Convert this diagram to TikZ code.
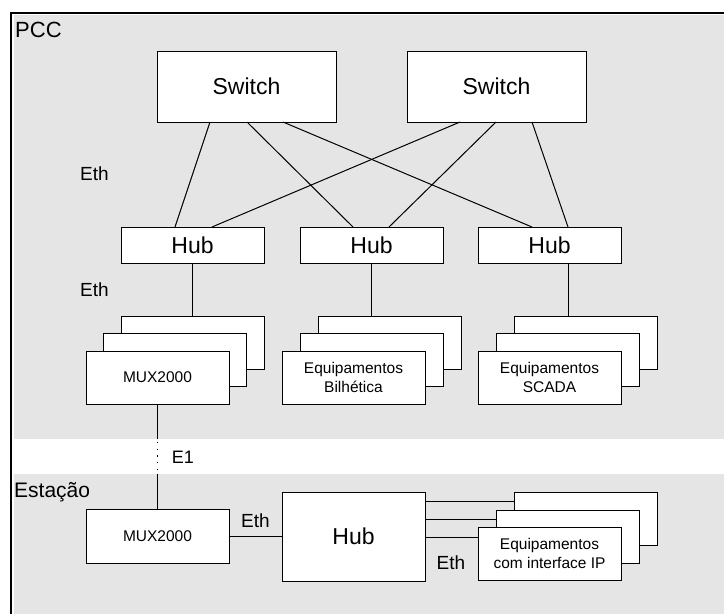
\documentclass[tikz,border=0pt]{standalone}
\usepackage{fontspec}
\setmainfont{Liberation Sans}
\definecolor{zone}{HTML}{E5E5E5}
\begin{document}
\begin{tikzpicture}[x=1pt,y=-1pt,
  unit/.style={draw=black,line width=1pt,fill=white,inner sep=0pt,outer sep=0pt,
    minimum width=143pt,minimum height=53pt,font=\fontsize{15.5}{19}\selectfont,align=center},
  switchbox/.style={unit,minimum width=179pt,minimum height=71pt,font=\fontsize{23}{26}\selectfont},
  hubbox/.style={unit,minimum height=36pt,font=\fontsize{23}{26}\selectfont},
  link/.style={line width=1pt,black},
  lbl/.style={inner sep=0pt,font=\fontsize{19}{22}\selectfont},
  zonelbl/.style={inner sep=0pt,anchor=base west,font=\fontsize{22}{24}\selectfont}]
\useasboundingbox (0,0) rectangle (724,614);
\fill[white] (0,0) rectangle (724,614);
% background zones
\fill[zone] (14,15) rectangle (724,439);
\fill[zone] (14,474) rectangle (724,614);
\draw[line width=2.5pt] (11,614) -- (11,13) -- (724,13);
\coordinate (bandtop) at (0,439);
\coordinate (bandbot) at (0,474);
\node[zonelbl] (pcc) at (15,37) {PCC};
\node[zonelbl,font=\fontsize{21}{24}\selectfont] (est) at (14,497) {Estação};

% switches and hubs
\node[switchbox] (sw1) at (246.5,86.5) {Switch};
\node[switchbox] (sw2) at (496.5,86.5) {Switch};
\node[hubbox] (hub1) at (192.5,245) {Hub};
\node[hubbox] (hub2) at (371.5,245) {Hub};
\node[hubbox] (hub3) at (549.5,245) {Hub};

\draw[link] ([xshift=53pt]sw1.south west) -- ([xshift=54pt]hub1.north west);
\draw[link] ([xshift=90pt]sw1.south west) -- ([xshift=53pt]hub2.north west);
\draw[link] ([xshift=126pt]sw1.south west) -- ([xshift=54pt]hub3.north west);
\draw[link] ([xshift=53pt]sw2.south west) -- ([xshift=91pt]hub1.north west);
\draw[link] ([xshift=89pt]sw2.south west) -- ([xshift=89pt]hub2.north west);
\draw[link] ([xshift=125pt]sw2.south west) -- ([xshift=90pt]hub3.north west);

\node[lbl] (eth1) at (94.5,174) {Eth};
\node[lbl] (eth2) at (94.5,290) {Eth};

% equipment stacks in PCC
\node[unit] (muxb) at (192.5,342.5) {};
\node[unit] (muxm) at (175,359.5) {};
\node[unit] (muxf) at (157.5,377.5) {MUX2000};
\node[unit] (bilb) at (389.5,342.5) {};
\node[unit] (bilm) at (371.5,359.5) {};
\node[unit] (bilf) at (353.5,377.5) {Equipamentos\\Bilhética};
\node[unit] (scab) at (585.5,342.5) {};
\node[unit] (scam) at (567.5,359.5) {};
\node[unit] (scaf) at (549.5,377.5) {Equipamentos\\SCADA};

\draw[link] (hub1.south) -- (hub1.south |- muxb.north);
\draw[link] (hub2.south) -- (hub2.south |- bilb.north);
\draw[link] ([xshift=90pt]hub3.south west) coordinate (h3) -- (h3 |- scab.north);

% station side
\node[unit,minimum height=54pt] (muxs) at (157.5,536) {MUX2000};
\node[hubbox,minimum height=89pt] (hubs) at (353.5,536.5) {Hub};

\draw[link] (muxf.south) -- (muxf.south |- bandtop);
\draw[link,dash pattern=on 1.2pt off 5.5pt] (muxf.south |- bandtop) ++(0,3) -- (muxf.south |- bandbot);
\draw[link] (muxf.south |- bandbot) -- (muxs.north);
\node[lbl,font=\fontsize{18}{22}\selectfont] (e1) at (183,457) {E1};

\draw[link] (muxs.east) -- (muxs.east -| hubs.west);
\node[lbl] (eth3) at (255.5,521) {Eth};

\node[unit] (ipb) at (585.5,518.5) {};
\node[unit] (ipm) at (567.5,536.5) {};
\node[unit] (ipf) at (549.5,553.5) {Equipamentos\\com interface IP};
\coordinate (r1) at (hubs.east |- 0,501);
\coordinate (r2) at (hubs.east |- 0,519);
\coordinate (r3) at (hubs.east |- 0,537);
\draw[link] (r1) -- (r1 -| ipb.west);
\draw[link] (r2) -- (r2 -| ipm.west);
\draw[link] (r3) -- (r3 -| ipf.west);
\node[lbl] (eth4) at (451,562.5) {Eth};
\end{tikzpicture}
\end{document}
